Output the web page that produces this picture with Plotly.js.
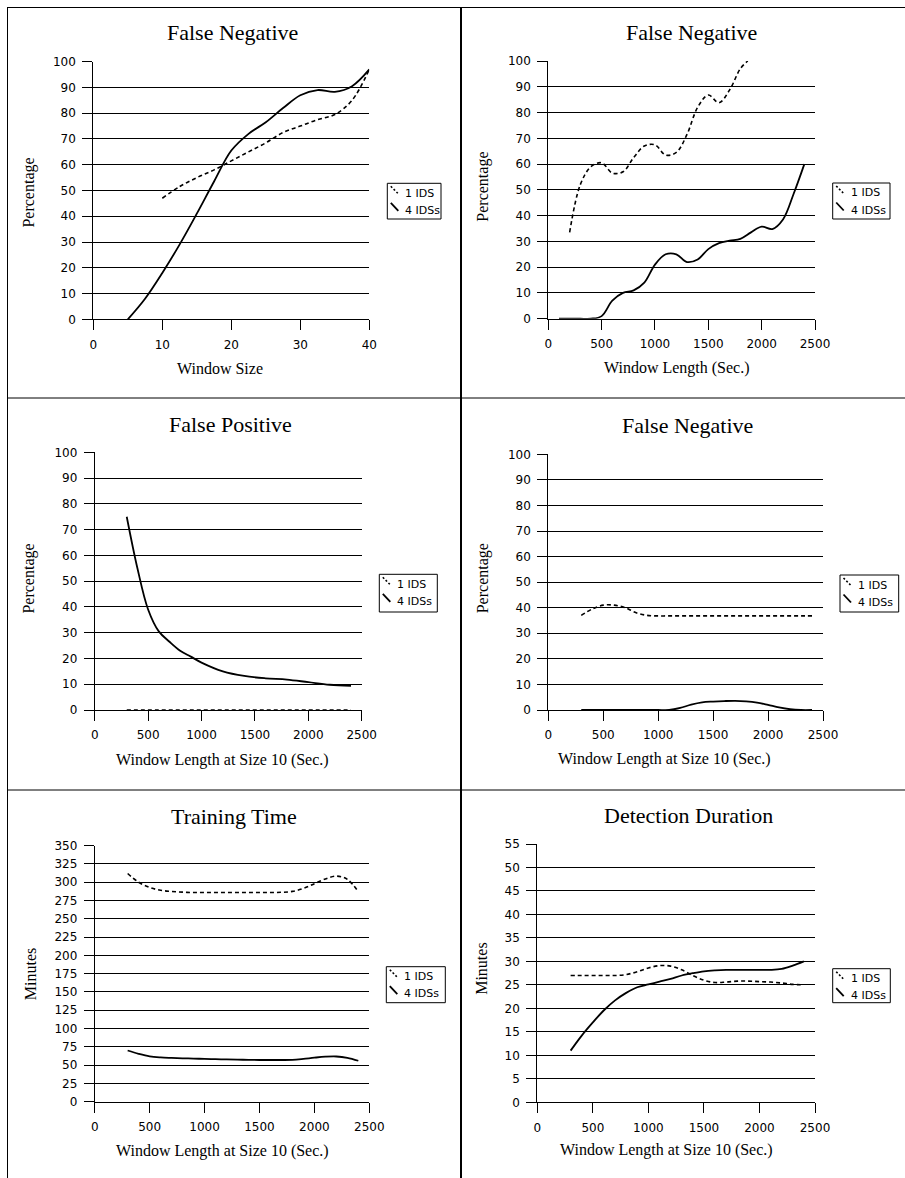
<!DOCTYPE html>
<html>
<head>
<meta charset="utf-8">
<script src="https://cdn.plot.ly/plotly-3.0.1.min.js"></script>
<style>
  html, body { margin: 0; padding: 0; background: #fff; }
  #chart { width: 905px; height: 1178px; }
</style>
</head>
<body>
<div id="chart"></div>
<script>
// ---------------- DATA ----------------
const seriesNames = ["1 IDS", "4 IDSs"];

const panelTitles = ["False Negative", "False Negative", "False Positive", "False Negative", "Training Time", "Detection Duration"];
const xTitles = ["Window Size", "Window Length (Sec.)", "Window Length at Size 10 (Sec.)", "Window Length at Size 10 (Sec.)", "Window Length at Size 10 (Sec.)", "Window Length at Size 10 (Sec.)"];
const yTitles = ["Percentage", "Percentage", "Percentage", "Percentage", "Minutes", "Minutes"];

// Panel 1: False Negative vs Window Size
const p1x_1ids = [10, 12.5, 15, 17.5, 20, 22.5, 25, 27.5, 30, 32.5, 35, 37.5, 40];
const p1y_1ids = [47, 51.5, 55, 58, 61.5, 65, 68.5, 72.5, 75, 77.5, 79.5, 85, 97];
const p1x_4ids = [5, 7.5, 10, 12.5, 15, 17.5, 20, 22.5, 25, 27.5, 30, 32.5, 35, 37.5, 40];
const p1y_4ids = [0, 8, 18, 29, 41, 53.5, 65.5, 72, 76.5, 82, 87, 89, 88.3, 90.5, 97];

// Panel 2: False Negative vs Window Length
const p2x_1ids = [200, 300, 400, 500, 600, 700, 800, 900, 1000, 1100, 1200, 1300, 1400, 1500, 1600, 1700, 1800, 1870];
const p2y_1ids = [33.5, 52, 59, 60.5, 56.5, 57, 62.5, 67, 67.5, 63.5, 64.5, 71.5, 82, 86.8, 83.8, 88.8, 97, 100];
const p2x_4ids = [100, 200, 300, 400, 500, 600, 700, 800, 900, 1000, 1100, 1200, 1300, 1400, 1500, 1600, 1700, 1800, 1900, 2000, 2100, 2200, 2300, 2400];
const p2y_4ids = [0, 0, 0, 0, 1, 7, 10, 11, 14, 21, 25, 25, 22, 23, 27, 29.3, 30.3, 31, 33.5, 35.7, 34.8, 38.5, 48.5, 60];

// Panel 3: False Positive vs Window Length at Size 10
const p3x_1ids = [300, 600, 900, 1200, 1500, 1800, 2100, 2400];
const p3y_1ids = [0, 0, 0, 0, 0, 0, 0, 0];
const p3x_4ids = [300, 400, 500, 600, 700, 800, 900, 1000, 1200, 1400, 1600, 1800, 2000, 2200, 2400];
const p3y_4ids = [75, 55, 39, 30.5, 26.5, 23, 20.7, 18.4, 15, 13.2, 12.3, 11.8, 10.8, 9.8, 9.4];

// Panel 4: False Negative vs Window Length at Size 10
const p4x = [300, 400, 500, 600, 700, 800, 900, 1000, 1100, 1200, 1300, 1400, 1500, 1600, 1700, 1800, 1900, 2000, 2100, 2200, 2300, 2400];
const p4y_1ids = [37, 39.5, 41, 41, 40, 38, 37, 36.8, 36.8, 36.8, 36.8, 36.8, 36.8, 36.8, 36.8, 36.8, 36.8, 36.8, 36.8, 36.8, 36.8, 36.8];
const p4y_4ids = [0, 0, 0, 0, 0, 0, 0, 0, 0, 0.8, 2.1, 3, 3.3, 3.5, 3.6, 3.4, 2.9, 2, 1, 0.3, 0, 0];

// Panel 5: Training Time
const p5x = [300, 400, 500, 600, 700, 800, 900, 1000, 1100, 1200, 1300, 1400, 1500, 1600, 1700, 1800, 1900, 2000, 2100, 2200, 2300, 2400];
const p5y_1ids = [312, 300, 293, 289, 287.5, 286.5, 286, 286, 286, 286, 286, 286, 286, 286, 286.3, 287.5, 291.5, 298, 304.5, 308.5, 304, 287];
const p5y_4ids = [70, 65.5, 62, 60.5, 59.8, 59.3, 59, 58.5, 58.2, 57.8, 57.5, 57.2, 57, 57, 57, 57.2, 58.5, 60.2, 61.5, 61.8, 60, 56];

// Panel 6: Detection Duration
const p6x = [300, 400, 500, 600, 700, 800, 900, 1000, 1100, 1200, 1300, 1400, 1500, 1600, 1700, 1800, 1900, 2000, 2100, 2200, 2300, 2400];
const p6y_1ids = [27, 27, 27, 27, 27, 27.2, 27.8, 28.6, 29.1, 29, 28.2, 27, 26, 25.5, 25.6, 25.8, 25.8, 25.7, 25.6, 25.4, 25.1, 25];
const p6y_4ids = [11, 14.2, 17, 19.6, 21.7, 23.3, 24.5, 25.1, 25.7, 26.3, 27, 27.5, 27.9, 28.1, 28.2, 28.2, 28.2, 28.2, 28.2, 28.4, 29.1, 30];

// Axis ranges / tick steps
const xRanges = [[0, 40], [0, 2500], [0, 2500], [0, 2500], [0, 2500], [0, 2500]];
const xSteps = [10, 500, 500, 500, 500, 500];
const yRanges = [[0, 100], [0, 100], [0, 100], [0, 100], [0, 350], [0, 55]];
const ySteps = [10, 10, 10, 10, 25, 5];

// ---------------- LAYOUT GEOMETRY (pixels) ----------------
const W = 905, H = 1178;
const px = v => v / W;
const py = v => 1 - v / H;

// plot areas: [x0, x1, yTop, yBottom]
const areas = [
  [93.3, 369.3, 61.7, 319.3],
  [548.3, 815, 61, 318.7],
  [94.7, 361.7, 452.3, 710],
  [548.3, 823, 454.3, 710],
  [94.7, 369.3, 845.7, 1101.7],
  [537.3, 815, 844, 1102.3]
];
// subplot title centers [x, y]
const titlePos = [[232, 33], [691, 33], [231, 424.5], [687, 425.5], [234.3, 816], [688.3, 815.5]];
// x-axis title centers
const xTitlePos = [[219.5, 368], [677, 368], [222.5, 759.5], [664, 758.5], [222.5, 1150.5], [666, 1149.5]];
// y-axis title centers
const yTitlePos = [[29.3, 192.3], [483, 186.7], [29.3, 578.3], [483, 578.3], [30.5, 974.7], [482, 968.8]];
// legend boxes [x0, y0, x1, y1]
const legendBoxes = [
  [387.3, 183.3, 441, 219],
  [832.7, 183, 890, 219],
  [379.3, 574.3, 437.3, 612],
  [840, 575, 898.7, 612],
  [386.3, 966.7, 445.3, 1002.7],
  [832.7, 968.7, 890.3, 1002.7]
];

// ---------------- TRACES ----------------
const panelData = [
  [[p1x_1ids, p1y_1ids], [p1x_4ids, p1y_4ids]],
  [[p2x_1ids, p2y_1ids], [p2x_4ids, p2y_4ids]],
  [[p3x_1ids, p3y_1ids], [p3x_4ids, p3y_4ids]],
  [[p4x, p4y_1ids], [p4x, p4y_4ids]],
  [[p5x, p5y_1ids], [p5x, p5y_4ids]],
  [[p6x, p6y_1ids], [p6x, p6y_4ids]]
];

const traces = [];
panelData.forEach((pd, i) => {
  const n = i + 1;
  const suffix = n === 1 ? '' : String(n);
  pd.forEach((s, k) => {
    traces.push({
      type: 'scatter',
      mode: 'lines',
      x: s[0], y: s[1],
      xaxis: 'x' + suffix, yaxis: 'y' + suffix,
      name: seriesNames[k],
      showlegend: false,
      line: k === 0
        ? { color: '#000', width: 1.6, dash: '4px,3px', shape: 'spline', smoothing: 1 }
        : { color: '#000', width: 1.8, shape: 'spline', smoothing: 1 },
      hoverinfo: 'x+y+name'
    });
  });
});

// ---------------- LAYOUT ----------------
const tickFont = { family: 'DejaVu Sans', size: 12, color: '#000' };
const layout = {
  width: W, height: H,
  margin: { l: 0, r: 0, t: 0, b: 0, pad: 0 },
  paper_bgcolor: '#fff', plot_bgcolor: '#fff',
  showlegend: false,
  annotations: [],
  shapes: []
};

areas.forEach((a, i) => {
  const n = i + 1;
  const suffix = n === 1 ? '' : String(n);
  layout['xaxis' + suffix] = {
    domain: [px(a[0]), px(a[1])],
    anchor: 'y' + suffix,
    range: xRanges[i], tick0: 0, dtick: xSteps[i],
    showline: true, linecolor: '#000', linewidth: 1,
    ticks: 'outside', ticklen: 10, tickwidth: 1, tickcolor: '#000',
    ticklabelstandoff: 4,
    showgrid: false, zeroline: false,
    tickfont: tickFont, fixedrange: true
  };
  layout['yaxis' + suffix] = {
    domain: [py(a[3]), py(a[2])],
    anchor: 'x' + suffix,
    range: yRanges[i], tick0: 0, dtick: ySteps[i],
    showline: true, linecolor: '#000', linewidth: 1,
    ticks: 'outside', ticklen: 10, tickwidth: 1, tickcolor: '#000',
    ticklabelstandoff: 4,
    showgrid: true, gridcolor: '#000', gridwidth: 1,
    zeroline: false,
    tickfont: tickFont, fixedrange: true
  };

  // subplot title
  layout.annotations.push({
    text: panelTitles[i], xref: 'paper', yref: 'paper',
    x: px(titlePos[i][0]), y: py(titlePos[i][1]),
    xanchor: 'center', yanchor: 'middle', showarrow: false,
    font: { family: 'Liberation Serif', size: 22, color: '#000' }
  });
  // x-axis title
  layout.annotations.push({
    text: xTitles[i], xref: 'paper', yref: 'paper',
    x: px(xTitlePos[i][0]), y: py(xTitlePos[i][1]),
    xanchor: 'center', yanchor: 'middle', showarrow: false,
    font: { family: 'Liberation Serif', size: 16, color: '#000' }
  });
  // y-axis title
  layout.annotations.push({
    text: yTitles[i], xref: 'paper', yref: 'paper',
    x: px(yTitlePos[i][0]), y: py(yTitlePos[i][1]),
    xanchor: 'center', yanchor: 'middle', showarrow: false, textangle: -90,
    font: { family: 'Liberation Serif', size: 16, color: '#000' }
  });

  // legend box (custom)
  const b = legendBoxes[i];
  layout.shapes.push({
    type: 'rect', xref: 'paper', yref: 'paper',
    x0: px(b[0]), x1: px(b[2]), y0: py(b[1]), y1: py(b[3]),
    line: { color: '#000', width: 1 }, fillcolor: '#fff'
  });
  layout.shapes.push({
    type: 'line', xref: 'paper', yref: 'paper',
    x0: px(b[0] + 3.5), y0: py(b[1] + 3), x1: px(b[0] + 10.5), y1: py(b[1] + 10),
    line: { color: '#000', width: 1.6, dash: '2px,2px' }
  });
  layout.shapes.push({
    type: 'line', xref: 'paper', yref: 'paper',
    x0: px(b[0] + 3.5), y0: py(b[1] + 19.5), x1: px(b[0] + 11), y1: py(b[1] + 27.5),
    line: { color: '#000', width: 1.8 }
  });
  layout.annotations.push({
    text: seriesNames[0], xref: 'paper', yref: 'paper',
    x: px(b[0] + 16), y: py(b[1] + 10), xanchor: 'left', yanchor: 'middle', showarrow: false,
    font: { family: 'DejaVu Sans', size: 11, color: '#000' }
  });
  layout.annotations.push({
    text: seriesNames[1], xref: 'paper', yref: 'paper',
    x: px(b[0] + 16), y: py(b[1] + 27), xanchor: 'left', yanchor: 'middle', showarrow: false,
    font: { family: 'DejaVu Sans', size: 11, color: '#000' }
  });
});

// panel borders
const borderLines = [
  [7, 7.5, 905, 7.5, 1],
  [7.5, 7, 7.5, 1178, 1],
  [461, 7, 461, 1178, 2],
  [7, 398, 905, 398, 1],
  [7, 790, 905, 790, 1]
];
borderLines.forEach(l => {
  layout.shapes.push({
    type: 'line', xref: 'paper', yref: 'paper',
    x0: px(l[0]), y0: py(l[1]), x1: px(l[2]), y1: py(l[3]),
    line: { color: '#000', width: l[4] }
  });
});

Plotly.newPlot('chart', traces, layout, { displayModeBar: false, staticPlot: true });
</script>
</body>
</html>
